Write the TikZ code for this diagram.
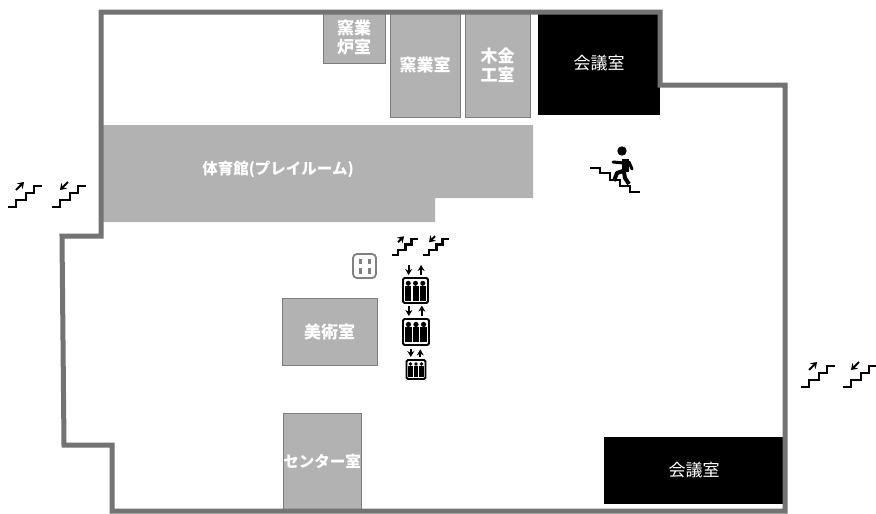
\documentclass[tikz,border=0pt]{standalone}
\usepackage{fontspec}
\setmainfont{Noto Sans CJK JP}
\usetikzlibrary{positioning, calc, arrows.meta}
\definecolor{roomgray}{gray}{0.7}
\definecolor{wallgray}{gray}{0.45}
\tikzset{
    room/.style={fill=roomgray,draw=roomgray!70!black,thin,inner sep=0pt,text=white,font=\fontsize{17}{19}\bfseries,align=center},
    roomsmall/.style={room,font=\fontsize{15.5}{17}\bfseries},
    blackroom/.style={fill=black,inner sep=0pt,text=white,font=\fontsize{17}{19}\selectfont,align=center},
    wall/.style={draw=wallgray,line width=5pt,line join=miter},
    stairline/.style={line width=2.2pt,line join=miter},
    stairarrow/.style={-{Stealth[length=6pt,width=8pt]},line width=2pt},
    liftarrow/.style={-{Stealth[length=6pt,width=7pt]},line width=1.8pt},
}
% one flight of stairs: x, y of the lower left end, scale
\newcommand{\stairsbase}[3]{\draw[stairline] (#1,#2) -- ++(#3*8,0) -- ++(0,-#3*7) -- ++(#3*10,0) -- ++(0,-#3*7) -- ++(#3*8,0) -- ++(0,-#3*7) -- ++(#3*8,0);}
\newcommand{\stairsup}[3]{\stairsbase{#1}{#2}{#3}
    \draw[stairarrow] (#1+#3*8,#2-#3*17) -- (#1+#3*16,#2-#3*25);}
\newcommand{\stairsdown}[3]{\stairsbase{#1}{#2}{#3}
    \draw[stairarrow] (#1+#3*16,#2-#3*25) -- (#1+#3*8,#2-#3*17);}
% lift: x, y, half width, with its arrows and three people
\newcommand{\lift}[3]{
    \draw[line width=1.8pt,rounded corners=1.5pt,fill=white] (#1-#3,#2-#3) rectangle (#1+#3,#2+#3);
    \foreach \dx in {-.58,0,.58}{
        \fill (#1+\dx*#3,#2-.58*#3) circle(.2*#3);
        \fill (#1+\dx*#3-.24*#3,#2-.36*#3) rectangle (#1+\dx*#3+.24*#3,#2+.8*#3);
    }
    \draw[liftarrow] (#1-.55*#3,#2-#3-3-.8*#3) -- ++(0,.8*#3);
    \draw[liftarrow] (#1+.45*#3,#2-#3-3) -- ++(0,-.8*#3);
}
\begin{document}
\begin{tikzpicture}[x=1pt,y=-1pt]
    \useasboundingbox (0,0) rectangle (876,514);
    \fill[white] (0,0) rectangle (876,514);
    % rooms
    \node[room,minimum width=62pt,minimum height=50pt] (kilnstore) at (354,38) {窯業\\炉室};
    \node[room,minimum width=70pt,minimum height=104pt] (kiln) at (425,65) {窯業室};
    \node[room,minimum width=65pt,minimum height=104pt] (craft) at (497.5,65) {木金\\工室};
    \node[blackroom,minimum width=122pt,minimum height=103pt] (meetingA) at (599,63.5) {会議室};
    \fill[roomgray] (103,125) -- (533,125) -- (533,198) -- (435,198) -- (435,222) -- (103,222) -- cycle;
    \node[text=white,font=\fontsize{15.5}{17}\bfseries] (gym) at (278,169) {体育館(プレイルーム)};
    \node[roomsmall,minimum width=95pt,minimum height=67pt,font=\fontsize{17}{19}\bfseries] (art) at (329.5,332) {美術室};
    \node[roomsmall,minimum width=78pt,minimum height=97pt] (center) at (322,461.5) {センター室};
    \node[blackroom,minimum width=181pt,minimum height=67pt] (meetingB) at (694,470) {会議室};
    % outer wall
    \draw[wall] (101,12) -- (660,12) -- (660,85) -- (785,85) -- (785,511) -- (112,511) -- (112,445) -- (64,445) -- (62,236) -- (101,236) -- cycle;
    % stairs
    \stairsup{8}{207}{1}
    \stairsdown{52}{207}{1}
    \stairsup{392}{255}{.75}
    \stairsdown{423}{255}{.75}
    \stairsup{801}{387}{1}
    \stairsdown{843}{387}{1}
    % lifts
    \lift{415.5}{290.5}{12.5}
    \lift{416}{332}{13}
    \lift{416}{369.5}{9.5}
    % toilet
    \draw[draw=gray,line width=1.8pt,rounded corners=4pt,fill=white] (353,254) rectangle (376,278);
    \foreach \tx in {360,369}{
        \fill[gray] (\tx-1.5,259) rectangle (\tx+1.5,264);
        \fill[gray] (\tx-1.5,268) rectangle (\tx+1.5,274);
    }
    % person on the stairs
    \draw[line width=2pt] (590,168) -- (600,168) -- (600,173) -- (610,173) -- (610,180) -- (620,180) -- (620,186) -- (630,186) -- (630,192) -- (640,192);
    \fill (622,151) circle(4.7);
    \draw[line width=7pt] (625,159) -- (625,172);
    \draw[line width=3pt,line cap=round] (613,162) -- (624,163);
    \draw[line width=3pt,line cap=round] (629,162) -- (632,169);
    \draw[line width=4pt,line join=round] (623,171) -- (617,173) -- (614,181);
    \draw[line width=4pt,line join=round] (624,172) -- (625,178) -- (629,184);
\end{tikzpicture}
\end{document}
